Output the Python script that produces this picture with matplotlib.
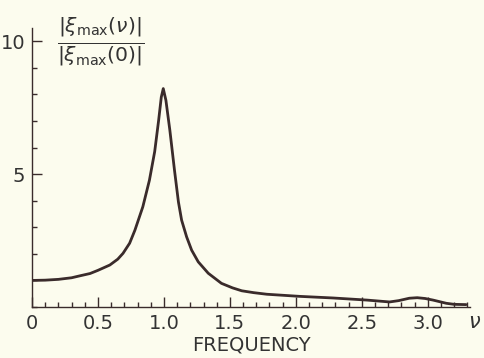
import numpy as np
import matplotlib
matplotlib.use("Agg")
import matplotlib.pyplot as plt
from matplotlib.ticker import MultipleLocator

# amplitude ratio
nu = [0.0, 0.1, 0.2, 0.3, 0.36, 0.44, 0.5, 0.59, 0.65, 0.69, 0.74, 0.78,
      0.84, 0.89, 0.93, 0.96, 0.98, 0.995, 1.015, 1.045, 1.08, 1.11, 1.134,
      1.172, 1.21, 1.26, 1.336, 1.436, 1.52, 1.59, 1.68, 1.78, 2.03, 2.28,
      2.54, 2.71, 2.78, 2.86, 2.92, 2.98, 3.04, 3.14, 3.2, 3.29]
ratio = [1.0, 1.01, 1.04, 1.1, 1.17, 1.26, 1.38, 1.58, 1.8, 2.02, 2.4, 2.89,
         3.77, 4.77, 5.85, 7.03, 7.9, 8.22, 7.78, 6.65, 5.15, 3.95, 3.27,
         2.64, 2.14, 1.7, 1.27, 0.89, 0.72, 0.61, 0.54, 0.48, 0.4, 0.34,
         0.26, 0.19, 0.24, 0.33, 0.35, 0.32, 0.26, 0.14, 0.1, 0.09]
xticks = [0, 0.5, 1.0, 1.5, 2.0, 2.5, 3.0]
xlabels = ["0", "0.5", "1.0", "1.5", "2.0", "2.5", "3.0"]
yticks = [5, 10]

bg = "#fcfcee"
ink = "#3a2b2b"

fig = plt.figure(figsize=(4.84, 3.58), dpi=100, facecolor=bg)
ax = fig.add_axes([32 / 484, 51 / 358, 438 / 484, 279 / 358], facecolor=bg)

ax.plot(nu, ratio, color=ink, lw=2.0, solid_joinstyle="round",
        solid_capstyle="round")

ax.set_xlim(0, 3.32)
ax.set_ylim(0, 10.5)
for s in ["top", "right"]:
    ax.spines[s].set_visible(False)
for s in ["left", "bottom"]:
    ax.spines[s].set_color(ink)
    ax.spines[s].set_linewidth(1.0)

ax.set_xticks(xticks)
ax.set_xticklabels(xlabels)
ax.xaxis.set_minor_locator(MultipleLocator(0.1))
ax.set_yticks(yticks)
ax.set_yticklabels([str(v) for v in yticks])
ax.yaxis.set_minor_locator(MultipleLocator(1))

ax.tick_params(which="major", direction="in", length=7, width=1.0,
               color=ink, labelsize=14, labelcolor="#333333", pad=5)
ax.tick_params(which="minor", direction="in", length=3.5, width=1.0,
               color=ink)

ax.set_xlabel("FREQUENCY", fontsize=14, color="#333333", labelpad=2)
fig.text(475 / 484, 1 - 322 / 358, r"$\nu$", fontsize=15, color="#333333",
         ha="center", va="center")
fig.text(101 / 484, 1 - 42 / 358,
         r"$\frac{|\xi_{\mathrm{max}}(\nu)|}{|\xi_{\mathrm{max}}(0)|}$",
         fontsize=21, color="#333333", ha="center", va="center")

fig.savefig("out.png", dpi=100, facecolor=bg)
